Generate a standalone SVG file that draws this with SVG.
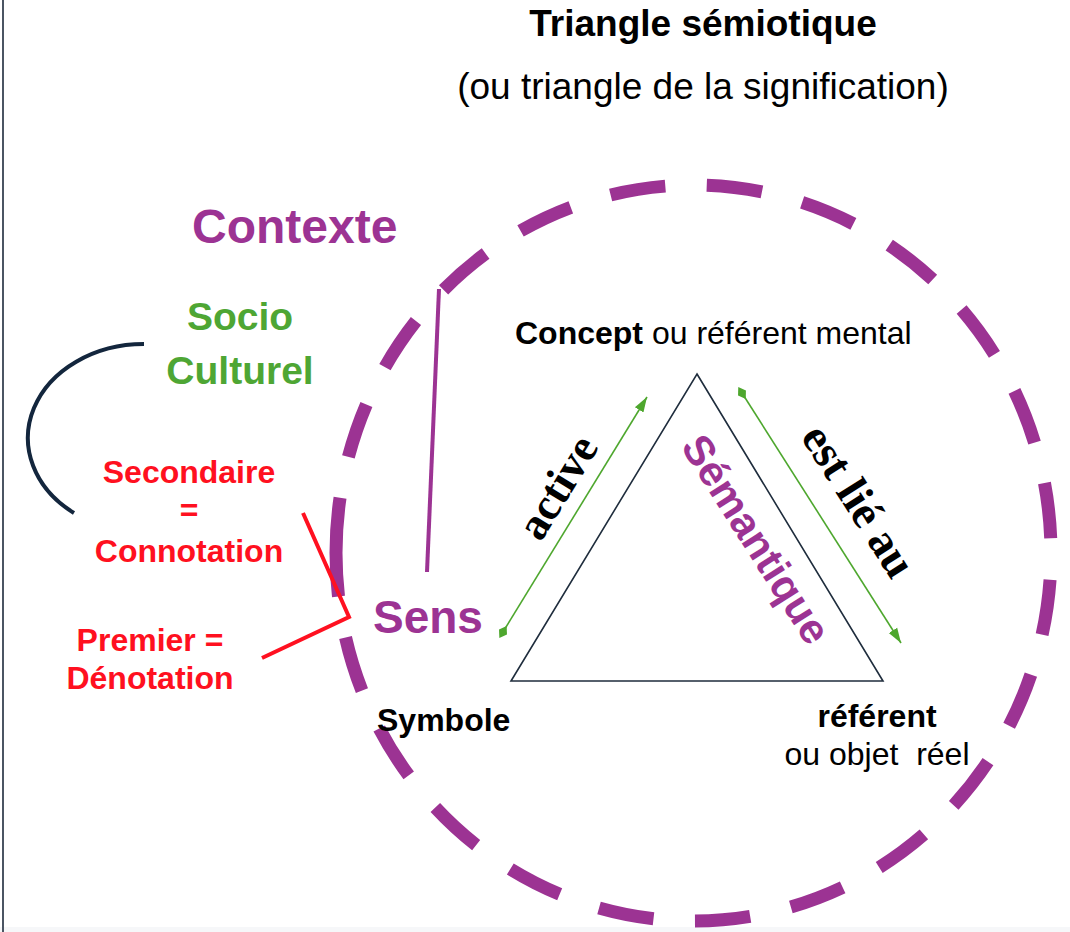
<svg xmlns="http://www.w3.org/2000/svg" width="1070" height="932" viewBox="0 0 1070 932">
<style>
.sans{font-family:"Liberation Sans",Arial,sans-serif}
.serif{font-family:"Liberation Serif","Times New Roman",serif;font-weight:bold}
.b{font-weight:bold}
.purple{fill:#9C3393}
.green{fill:#4EA634}
.red{fill:#FF1020}
.blk{fill:#000}
.arrow{stroke:#4EA72E;stroke-width:1.6;fill:none}
</style>
<defs>
<marker id="ah" markerUnits="userSpaceOnUse" markerWidth="16" markerHeight="12" refX="15" refY="5" orient="auto" viewBox="0 0 16 10">
<path d="M0,0 L15,5 L0,10 z" fill="#4EA72E"/>
</marker>
<marker id="dm" markerUnits="userSpaceOnUse" markerWidth="14" markerHeight="10" refX="6" refY="4" orient="auto" viewBox="0 0 12 8">
<path d="M0,4 L6,0 L12,4 L6,8 z" fill="#4EA72E"/>
</marker>
</defs>
<rect x="0" y="0" width="1070" height="932" fill="#fff"/>
<rect x="0" y="927" width="1070" height="5" fill="#f6f7f9"/>
<rect x="2" y="0" width="2" height="932" fill="#4b5563"/>

<g id="title">
<text class="sans b blk" x="703" y="36" font-size="37" text-anchor="middle">Triangle sémiotique</text>
<text class="sans blk" x="703" y="99" font-size="37" text-anchor="middle">(ou triangle de la signification)</text>
</g>

<g id="contexte-circle">
<path d="M336,553 A357.5,368 0 0 1 1051,553 A357.5,368 0 0 1 336,553" pathLength="2298" fill="none" stroke="#9C3393" stroke-width="13" stroke-dasharray="56 42"/>
</g>

<g id="contexte"><text class="sans b purple" x="192" y="243" font-size="48">Contexte</text></g>

<g id="socio-culturel">
<text class="sans b green" x="240" y="330" font-size="39" text-anchor="middle">Socio</text>
<text class="sans b green" x="240" y="384" font-size="39" text-anchor="middle">Culturel</text>
</g>

<g id="secondaire">
<text class="sans b red" x="189" y="483" font-size="32" text-anchor="middle">Secondaire</text>
<text class="sans b red" x="189" y="521" font-size="32" text-anchor="middle">=</text>
<text class="sans b red" x="189" y="562" font-size="32" text-anchor="middle">Connotation</text>
</g>

<g id="premier">
<text class="sans b red" x="150" y="651" font-size="32" text-anchor="middle">Premier =</text>
<text class="sans b red" x="150" y="689" font-size="32" text-anchor="middle">Dénotation</text>
</g>

<g id="sens"><text class="sans b purple" x="373" y="633" font-size="46">Sens</text></g>

<g id="triangle">
<path d="M697,374 L883,681 L511,681 Z" fill="none" stroke="#1F2D3D" stroke-width="1.6" stroke-linejoin="miter"/>
</g>

<g id="concept">
<text class="sans blk" x="515" y="344" font-size="32"><tspan class="b">Concept</tspan> ou référent mental</text>
</g>

<g id="symbole"><text class="sans b blk" x="377" y="731" font-size="32">Symbole</text></g>

<g id="referent">
<text class="sans b blk" x="877" y="727" font-size="32" text-anchor="middle">référent</text>
<text class="sans blk" x="877" y="765" font-size="32" text-anchor="middle" xml:space="preserve">ou objet  réel</text>
</g>

<g id="semantique">
<text class="sans b purple" font-size="42" text-anchor="middle" transform="translate(755,540) rotate(57.5)" x="0" y="13">Sémantique</text>
</g>

<g id="connectors">
<line class="arrow" x1="503" y1="632" x2="647" y2="397" marker-start="url(#dm)" marker-end="url(#ah)"/>
<line class="arrow" x1="742" y1="393" x2="901" y2="643" marker-start="url(#dm)" marker-end="url(#ah)"/>
<text class="serif blk" font-size="45" text-anchor="middle" transform="translate(559,488) rotate(-58.5)" x="0" y="13">active</text>
<text class="serif blk" font-size="46" text-anchor="middle" transform="translate(857,502) rotate(57.5)" x="0" y="13">est lié au</text>
<line x1="439" y1="289" x2="427" y2="572" stroke="#9C3393" stroke-width="4"/>
<polyline points="303,513 349,617 262,658" fill="none" stroke="#FF1020" stroke-width="4"/>
<path d="M144,344 A116,94 0 0 0 74,513" fill="none" stroke="#13263D" stroke-width="4"/>
</g>
</svg>
